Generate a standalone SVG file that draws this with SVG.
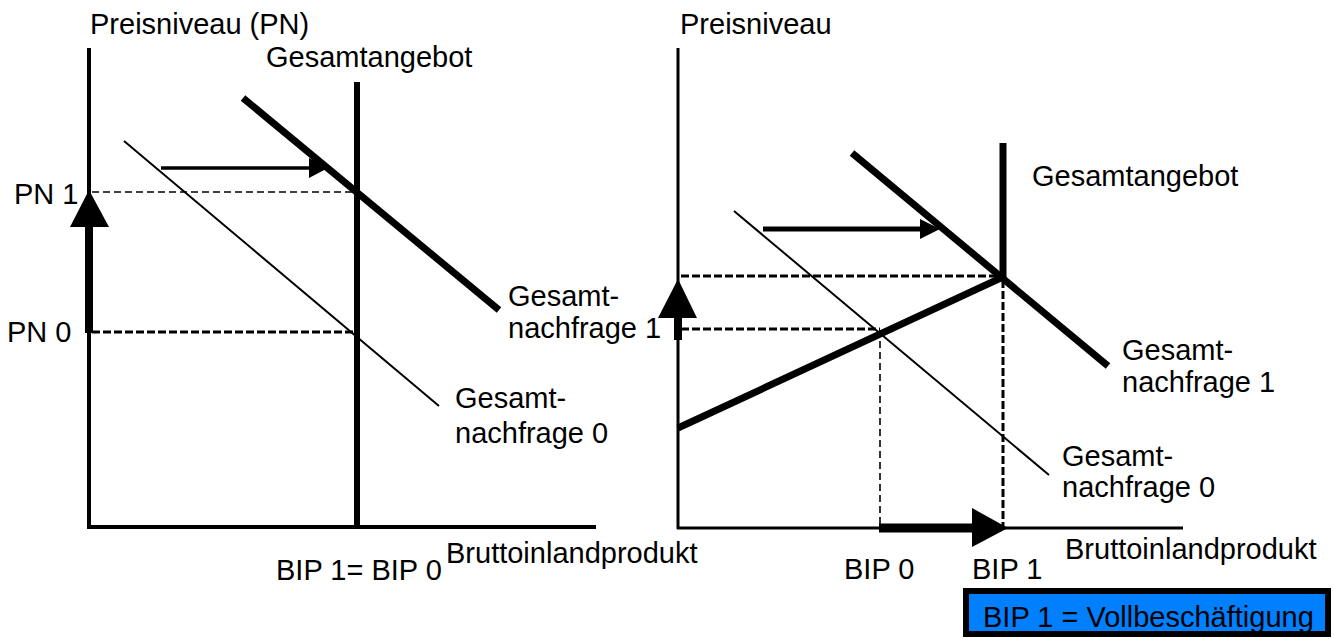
<svg xmlns="http://www.w3.org/2000/svg" width="1334" height="639" viewBox="0 0 1334 639">
<style>
text{font-family:"Liberation Sans",Arial,sans-serif;font-size:29px;fill:#000}
.ax{stroke:#000;stroke-width:4;fill:none}
.thin{stroke:#000;stroke-width:2;fill:none}
.thick{stroke:#000;stroke-width:7;fill:none}
.dthin{stroke:#000;stroke-width:1.6;stroke-dasharray:7 4;fill:none}
.dthick{stroke:#000;stroke-width:3;stroke-dasharray:8 3;fill:none}
.head{fill:#000;stroke:none}
</style>
<rect width="1334" height="639" fill="#fff"/>
<g id="left-chart">
  <g id="left-axes">
    <line class="ax" x1="89" y1="48" x2="89" y2="529"/>
    <line class="ax" x1="87" y1="527" x2="596" y2="527"/>
    <text x="90" y="34">Preisniveau (PN)</text>
    <text x="446" y="563">Bruttoinlandprodukt</text>
    <text x="276" y="580">BIP 1= BIP 0</text>
    <text x="14" y="204">PN 1</text>
    <text x="7" y="342">PN 0</text>
  </g>
  <g id="left-supply">
    <line x1="357" y1="82" x2="357" y2="528" stroke="#000" stroke-width="6"/>
    <text x="266" y="67">Gesamtangebot</text>
  </g>
  <g id="left-demand1">
    <line class="thick" x1="243" y1="98" x2="499" y2="310"/>
    <text x="508" y="306">Gesamt-</text>
    <text x="508" y="338">nachfrage 1</text>
  </g>
  <g id="left-demand0">
    <line class="thin" x1="124" y1="141" x2="439" y2="406"/>
    <text x="455" y="408">Gesamt-</text>
    <text x="455" y="443">nachfrage 0</text>
  </g>
</g>
<g id="right-chart">
  <g id="right-axes">
    <line x1="678" y1="48" x2="678" y2="529" stroke="#000" stroke-width="3"/>
    <line x1="677" y1="528" x2="1183" y2="528" stroke="#000" stroke-width="3"/>
    <text x="680" y="34">Preisniveau</text>
    <text x="1065" y="559">Bruttoinlandprodukt</text>
    <text x="844" y="579">BIP 0</text>
    <text x="972" y="579">BIP 1</text>
  </g>
  <g id="right-supply">
    <polyline points="678,428 1003,277 1003,143" fill="none" stroke="#000" stroke-width="7" stroke-linejoin="miter"/>
    <text x="1032" y="186">Gesamtangebot</text>
  </g>
  <g id="right-demand1">
    <line class="thick" x1="852" y1="153" x2="1108" y2="366"/>
    <text x="1122" y="360">Gesamt-</text>
    <text x="1122" y="392">nachfrage 1</text>
  </g>
  <g id="right-demand0">
    <line class="thin" x1="734" y1="211" x2="1049" y2="475"/>
    <text x="1062" y="466">Gesamt-</text>
    <text x="1062" y="497">nachfrage 0</text>
  </g>
  <g id="note">
    <rect x="966" y="591" width="362" height="43" fill="#0080ff" stroke="#000" stroke-width="6"/>
    <text x="983" y="627">BIP 1 = Vollbeschäftigung</text>
  </g>
</g>
<g id="connectors">
  <line class="dthin" x1="92" y1="192" x2="357" y2="192"/>
  <line class="dthick" x1="92" y1="332" x2="357" y2="332"/>
  <line x1="161" y1="168" x2="314" y2="168" stroke="#000" stroke-width="3.5"/>
  <polygon class="head" points="309,158 328,168 309,178"/>
  <line x1="89" y1="333" x2="89" y2="226" stroke="#000" stroke-width="8"/>
  <polygon class="head" points="70,227 89,190 109,227"/>
  <line class="dthick" x1="681" y1="276" x2="1002" y2="276"/>
  <line class="dthick" x1="681" y1="329" x2="880" y2="329"/>
  <line class="dthin" x1="880" y1="330" x2="880" y2="527"/>
  <line class="dthick" x1="1003" y1="280" x2="1003" y2="527"/>
  <line x1="763" y1="229" x2="925" y2="229" stroke="#000" stroke-width="5"/>
  <polygon class="head" points="920,219 940,229 920,239"/>
  <line x1="879" y1="528" x2="974" y2="528" stroke="#000" stroke-width="9"/>
  <polygon class="head" points="972,508 1008,528 972,547"/>
  <line x1="678" y1="340" x2="678" y2="316" stroke="#000" stroke-width="8"/>
  <polygon class="head" points="658,318 678,279 697,318"/>
</g>
</svg>
